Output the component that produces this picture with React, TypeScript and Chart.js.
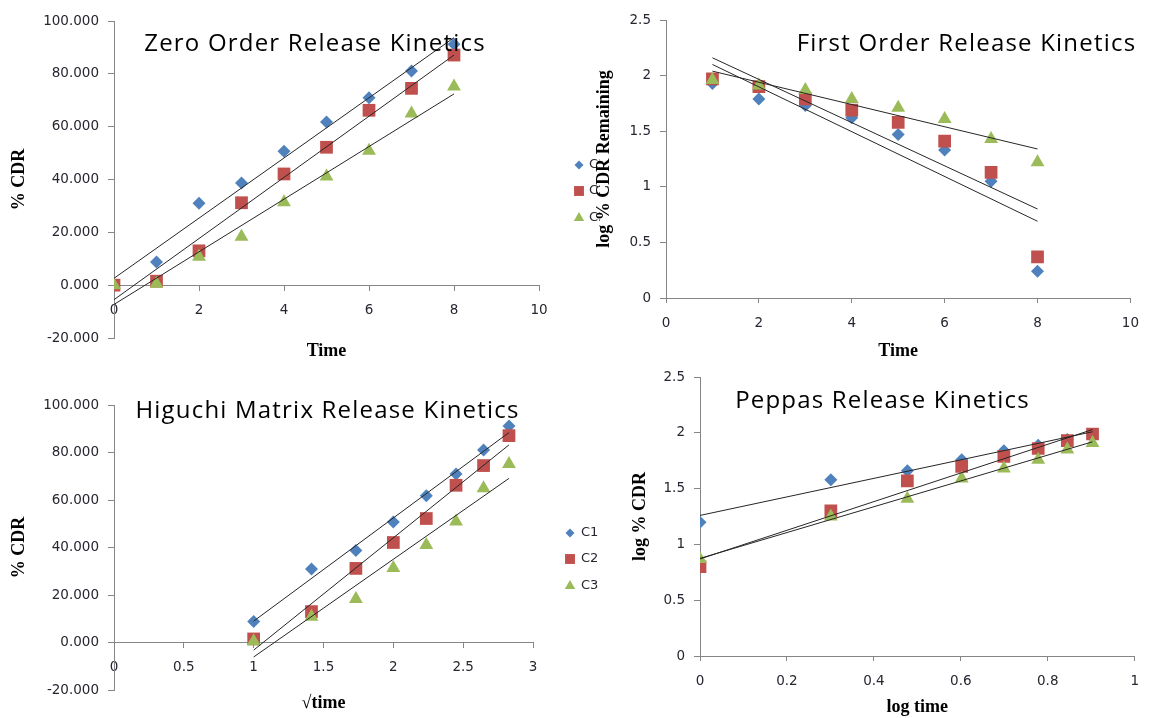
import React, { useEffect, useRef } from "react";
import { Chart, registerables } from "chart.js";

Chart.register(...registerables);

// ---------------- series meta ----------------
const seriesLabels = ["C1", "C2", "C3"];
const seriesColors = ["#4F81BD", "#C0504D", "#9BBB59"];
const seriesMarkers = ["rectRot", "rect", "triangle"];

// ---------------- Zero order (time vs % CDR) ----------------
const time = [0, 1, 2, 3, 4, 5, 6, 7, 8];
const cdrC1 = [0, 8.8, 31.0, 38.7, 50.7, 61.8, 70.9, 81.1, 91.2];
const cdrC2 = [0, 1.5, 13.0, 31.2, 42.1, 52.2, 66.2, 74.5, 87.1];
const cdrC3 = [0, 0.5, 10.8, 18.3, 31.4, 41.1, 50.9, 65.0, 75.2];
const zeroTrendX = [0, 8];
const zeroTrendC1 = [2.6, 93.7];
const zeroTrendC2 = [-5.5, 87.1];
const zeroTrendC3 = [-7.3, 72.4];

// ---------------- First order (time vs log % CDR remaining) ----------------
const firstTime = [1, 2, 3, 4, 5, 6, 7, 8];
const logRemC1 = [1.93, 1.79, 1.73, 1.62, 1.47, 1.33, 1.05, 0.24];
const logRemC2 = [1.97, 1.90, 1.79, 1.69, 1.58, 1.41, 1.13, 0.37];
const logRemC3 = [1.96, 1.91, 1.87, 1.79, 1.71, 1.61, 1.43, 1.22];
const firstTrendX = [1, 8];
const firstTrendC1 = [2.10, 0.69];
const firstTrendC2 = [2.16, 0.80];
const firstTrendC3 = [2.04, 1.34];

// ---------------- Higuchi (sqrt time vs % CDR) ----------------
const rootTime = [1, 1.414, 1.732, 2, 2.236, 2.449, 2.646, 2.828];
const higuchiC1 = [8.8, 31.0, 38.7, 50.7, 61.8, 70.9, 81.1, 91.2];
const higuchiC2 = [1.5, 13.0, 31.2, 42.1, 52.2, 66.2, 74.5, 87.1];
const higuchiC3 = [0.5, 10.8, 18.3, 31.4, 41.1, 50.9, 65.0, 75.2];
const higuchiTrendX = [1, 2.828];
const higuchiTrendC1 = [9.0, 88.4];
const higuchiTrendC2 = [-3.2, 83.2];
const higuchiTrendC3 = [-6.1, 69.1];

// ---------------- Peppas (log time vs log % CDR) ----------------
const logTime = [0, 0.301, 0.477, 0.602, 0.699, 0.778, 0.845, 0.903];
const logCdrC1 = [1.20, 1.58, 1.66, 1.76, 1.84, 1.89, 1.94, 1.97];
const logCdrC2 = [0.80, 1.30, 1.57, 1.70, 1.79, 1.86, 1.93, 1.99];
const logCdrC3 = [0.87, 1.25, 1.41, 1.59, 1.68, 1.76, 1.85, 1.91];
const peppasTrendX = [0, 0.903];
const peppasTrendC1 = [1.26, 2.01];
const peppasTrendC2 = [0.87, 2.03];
const peppasTrendC3 = [0.875, 1.92];

// ---------------- styling ----------------
const markerRadius = [6.5, 9, 8];
const legendMarkerRadius = [4.5, 7, 6];
const AXIS_COLOR = "#868686";
const TICK_COLOR = "#262630";
const TICK_FONT = { family: "DejaVu Sans", size: 13.5 };
const AXIS_TITLE_FONT = { family: "Liberation Serif", size: 18, weight: "bold" as const };
const PANEL_TITLE_FONT = '24px "Open Sans"';
const PANEL_TITLE_SPACING = "1.2px";
const LEGEND_FONT = '13px "DejaVu Sans"';

const fixed3 = (v: any) => Number(v).toFixed(3);
const plain = (v: any) => String(Math.round(Number(v) * 100) / 100);

type Spec = {
  box: { x: number; y: number; w: number; h: number };
  area: { l: number; t: number; r: number; b: number };
  xs: number[];
  ys: number[][];
  trendX: number[];
  trends: number[][];
  x: { min: number; max: number; step: number; title: string; atZero: boolean; titleY: number; fmt: (v: any) => string };
  y: { min: number; max: number; step: number; title: string; titleX: number; fmt: (v: any) => string };
  title: { text: string; cx: number; base: number };
  legend?: { mx: number; tx: number; ys: number[] };
};

const specs: Spec[] = [
  {
    box: { x: 0, y: 0, w: 600, h: 372 },
    area: { l: 114, t: 21, r: 539, b: 338 },
    xs: time,
    ys: [cdrC1, cdrC2, cdrC3],
    trendX: zeroTrendX,
    trends: [zeroTrendC1, zeroTrendC2, zeroTrendC3],
    x: { min: 0, max: 10, step: 2, title: "Time", atZero: true, titleY: 351, fmt: plain },
    y: { min: -20, max: 100, step: 20, title: "% CDR", titleX: 19, fmt: fixed3 },
    title: { text: "Zero Order Release Kinetics", cx: 315, base: 51 },
    legend: { mx: 579, tx: 589, ys: [165, 191, 218] },
  },
  {
    box: { x: 0, y: 360, w: 600, h: 358 },
    area: { l: 114, t: 405, r: 533, b: 690 },
    xs: rootTime,
    ys: [higuchiC1, higuchiC2, higuchiC3],
    trendX: higuchiTrendX,
    trends: [higuchiTrendC1, higuchiTrendC2, higuchiTrendC3],
    x: { min: 0, max: 3, step: 0.5, title: "√time", atZero: true, titleY: 703, fmt: plain },
    y: { min: -20, max: 100, step: 20, title: "% CDR", titleX: 19, fmt: fixed3 },
    title: { text: "Higuchi Matrix Release Kinetics", cx: 327.5, base: 418 },
    legend: { mx: 570, tx: 581, ys: [533, 559, 586] },
  },
  {
    box: { x: 560, y: 0, w: 591, h: 372 },
    area: { l: 666, t: 20, r: 1139, b: 298 },
    xs: firstTime,
    ys: [logRemC1, logRemC2, logRemC3],
    trendX: firstTrendX,
    trends: [firstTrendC1, firstTrendC2, firstTrendC3],
    x: { min: 0, max: 10, step: 2, title: "Time", atZero: false, titleY: 351, fmt: plain },
    y: { min: 0, max: 2.5, step: 0.5, title: "log % CDR Remaining", titleX: 604, fmt: plain },
    title: { text: "First Order Release Kinetics", cx: 966.5, base: 51 },
  },
  {
    box: { x: 600, y: 360, w: 551, h: 358 },
    area: { l: 700, t: 377, r: 1145, b: 656 },
    xs: logTime,
    ys: [logCdrC1, logCdrC2, logCdrC3],
    trendX: peppasTrendX,
    trends: [peppasTrendC1, peppasTrendC2, peppasTrendC3],
    x: { min: 0, max: 1, step: 0.2, title: "log time", atZero: false, titleY: 708, fmt: plain },
    y: { min: 0, max: 2.5, step: 0.5, title: "log % CDR", titleX: 640, fmt: plain },
    title: { text: "Peppas Release Kinetics", cx: 882.5, base: 408 },
  },
];

function drawMarker(ctx: CanvasRenderingContext2D, style: string, x: number, y: number, r: number, color: string) {
  ctx.save();
  ctx.fillStyle = color;
  ctx.beginPath();
  if (style === "rectRot") {
    ctx.moveTo(x, y - r);
    ctx.lineTo(x + r, y);
    ctx.lineTo(x, y + r);
    ctx.lineTo(x - r, y);
  } else if (style === "rect") {
    const s = r * Math.SQRT1_2;
    ctx.rect(x - s, y - s, 2 * s, 2 * s);
  } else {
    ctx.moveTo(x, y - r);
    ctx.lineTo(x + r * Math.sin((2 * Math.PI) / 3), y - r * Math.cos((2 * Math.PI) / 3));
    ctx.lineTo(x + r * Math.sin((4 * Math.PI) / 3), y - r * Math.cos((4 * Math.PI) / 3));
  }
  ctx.closePath();
  ctx.fill();
  ctx.restore();
}

function buildConfig(s: Spec): any {
  const off = (AXIS_TITLE_FONT.size * 1.2) / 2;
  const yScaleLeft = s.y.titleX - off;
  const yW = s.area.l - yScaleLeft;
  const zeroPx = s.area.t + (s.y.max / (s.y.max - s.y.min)) * (s.area.b - s.area.t);
  const axisLine = s.x.atZero ? zeroPx : s.area.b;
  let xH = s.x.titleY + off - axisLine;
  let pb: number;
  if (s.x.atZero) {
    pb = s.box.y + s.box.h - s.area.b;
  } else {
    pb = s.box.y + s.box.h - s.area.b - xH;
    if (pb < 0) {
      xH += pb;
      pb = 0;
    }
  }
  const padding = {
    left: yScaleLeft - s.box.x,
    top: s.area.t - s.box.y,
    right: s.box.x + s.box.w - s.area.r,
    bottom: pb,
  };

  const datasets: any[] = [];
  s.ys.forEach((vals, i) => {
    datasets.push({
      label: seriesLabels[i],
      data: s.xs.map((x, j) => ({ x, y: vals[j] })),
      pointStyle: seriesMarkers[i],
      pointRadius: markerRadius[i],
      pointHoverRadius: markerRadius[i],
      backgroundColor: seriesColors[i],
      borderColor: seriesColors[i],
      borderWidth: 0,
      showLine: false,
      order: 4 - i,
    });
  });
  s.trends.forEach((vals) => {
    datasets.push({
      label: "",
      data: s.trendX.map((x, j) => ({ x, y: vals[j] })),
      showLine: true,
      borderColor: "#262626",
      borderWidth: 1,
      pointRadius: 0,
      pointHoverRadius: 0,
      fill: false,
      order: 0,
    });
  });

  const overlay = {
    id: "panelOverlay",
    afterDatasetsDraw(chart: any) {
      const ctx: any = chart.ctx;
      ctx.save();
      ctx.font = PANEL_TITLE_FONT;
      try {
        ctx.letterSpacing = PANEL_TITLE_SPACING;
      } catch (e) {}
      ctx.fillStyle = "#000000";
      ctx.textAlign = "center";
      ctx.textBaseline = "alphabetic";
      ctx.fillText(s.title.text, s.title.cx - s.box.x, s.title.base - s.box.y);
      try {
        ctx.letterSpacing = "0px";
      } catch (e) {}
      if (s.legend) {
        const lg = s.legend;
        ctx.font = LEGEND_FONT;
        ctx.textAlign = "left";
        ctx.textBaseline = "middle";
        seriesLabels.forEach((lab, i) => {
          const yy = lg.ys[i] - s.box.y;
          drawMarker(ctx, seriesMarkers[i], lg.mx - s.box.x, yy, legendMarkerRadius[i], seriesColors[i]);
          ctx.fillStyle = TICK_COLOR;
          ctx.fillText(lab, lg.tx - s.box.x, yy);
        });
      }
      ctx.restore();
    },
  };

  return {
    type: "scatter",
    data: { datasets },
    plugins: [overlay],
    options: {
      responsive: false,
      animation: false,
      events: [],
      layout: { padding },
      plugins: { legend: { display: false }, tooltip: { enabled: false }, title: { display: false } },
      scales: {
        x: {
          type: "linear",
          position: s.x.atZero ? { y: 0 } : "bottom",
          min: s.x.min,
          max: s.x.max,
          ticks: {
            stepSize: s.x.step,
            callback: s.x.fmt,
            font: TICK_FONT,
            color: TICK_COLOR,
            padding: 12,
            maxRotation: 0,
            autoSkip: false,
          },
          grid: { display: true, drawOnChartArea: false, drawTicks: true, tickLength: 5, color: AXIS_COLOR },
          border: { display: true, color: AXIS_COLOR, width: 1 },
          title: { display: true, text: s.x.title, font: AXIS_TITLE_FONT, color: "#000000", padding: 0 },
          afterFit: (scale: any) => {
            scale.height = xH;
          },
        },
        y: {
          type: "linear",
          position: "left",
          min: s.y.min,
          max: s.y.max,
          ticks: {
            stepSize: s.y.step,
            callback: s.y.fmt,
            font: TICK_FONT,
            color: TICK_COLOR,
            padding: 9,
          },
          grid: { display: true, drawOnChartArea: false, drawTicks: true, tickLength: 6, color: AXIS_COLOR },
          border: { display: true, color: AXIS_COLOR, width: 1 },
          title: { display: true, text: s.y.title, font: AXIS_TITLE_FONT, color: "#000000", padding: 0 },
          afterFit: (scale: any) => {
            scale.width = yW;
          },
        },
      },
    },
  };
}

function Panel({ spec }: { spec: Spec }) {
  const ref = useRef<HTMLCanvasElement>(null);
  useEffect(() => {
    if (!ref.current) return;
    const chart = new Chart(ref.current, buildConfig(spec));
    return () => chart.destroy();
  }, [spec]);
  const { x, y, w, h } = spec.box;
  return (
    <canvas
      ref={ref}
      width={w}
      height={h}
      style={{ position: "absolute", left: x, top: y, width: w, height: h }}
    />
  );
}

export default function App() {
  return (
    <div style={{ position: "absolute", left: 0, top: 0, width: 1151, height: 718, background: "#ffffff", overflow: "hidden" }}>
      {specs.map((sp, i) => (
        <Panel key={i} spec={sp} />
      ))}
    </div>
  );
}
